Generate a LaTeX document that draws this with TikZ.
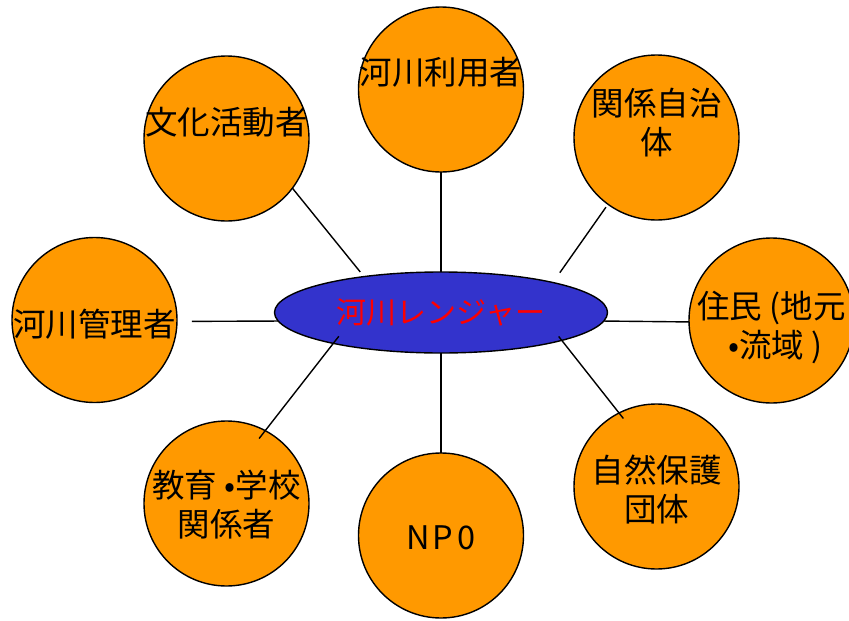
\documentclass[tikz,border=0pt]{standalone}
\usepackage{fontspec}
\newfontfamily\jpfont{Noto Sans CJK JP}
\usepackage{tikz}
\usepackage{xcolor}
\usetikzlibrary{shapes.geometric}
\definecolor{kawaorange}{HTML}{FF9900}
\definecolor{kawablue}{HTML}{3333CC}
\tikzset{
  font={\jpfont\fontsize{32.5pt}{39pt}\selectfont}}

\begin{document}
\begin{tikzpicture}[x=1pt, y=-1pt]

    \tikzset{actor/.style = {circle, draw=black, fill=kawaorange, line width=1.4pt, minimum size=165pt, inner sep=0pt, outer sep=0pt},
             edge/.style = {line width=1.4pt}}

    \useasboundingbox (0,0) rectangle (849,621);

    % vertices
    \node[ellipse, draw=black, fill=kawablue, line width=1.4pt, minimum width=333pt, minimum height=81pt, inner sep=0pt, outer sep=0pt, text=red, font={\jpfont\fontsize{30pt}{36pt}\selectfont}] (ranger) at (441,312.5) {河川レンジャー};
    \node[actor, label={[yshift=17.5pt]center:河川利用者}] (riyou) at (441,89.5) {};
    \node[actor, label={[align=center, yshift=14.5pt]center:関係自治\\体}] (kankei) at (656.5,137.5) {};
    \node[actor, label={[yshift=16.5pt]center:文化活動者}] (bunka) at (226.5,138.5) {};
    \node[actor, label={[yshift=-4pt]center:河川管理者}] (kanri) at (94.5,320) {};
    \node[actor, label={[align=center, yshift=-6.5pt]center:住民 (地元\\\hspace{8pt}•流域 )}] (juumin) at (771.5,320.5) {};
    \node[actor, label={[align=center, yshift=-1.5pt]center:教育 •学校\\関係者}] (kyouiku) at (226.5,503.5) {};
    \node[actor, label={[yshift=-2.5pt]center:N\kern2pt P\kern4pt 0}] (npo) at (441,535.5) {};
    \node[actor, label={[align=center, yshift=-3.5pt]center:自然保護\\団体}] (shizen) at (656.5,486.5) {};

    %edges
    \draw[edge] (riyou.south) -- (ranger.north);
    \draw[edge, shorten >=6pt] (bunka.-37.8) -- (ranger.155.2);
    \draw[edge, shorten <=12pt, shorten >=3.6pt] (ranger.15.9) -- (kankei.234.6);
    \draw[edge, shorten >=15pt] (ranger.183.4) -- (kanri.-1.4);
    \draw[edge] (ranger.-3.4) -- (juumin.181);
    \draw[edge, shorten <=-9pt, shorten >=-10pt] (ranger.196.6) -- (kyouiku.62.5);
    \draw[edge] (ranger.south) -- (npo.north);
    \draw[edge, shorten <=-5pt, shorten >=-7pt] (ranger.-13.5) -- (shizen.117.2);

\end{tikzpicture}
\end{document}
